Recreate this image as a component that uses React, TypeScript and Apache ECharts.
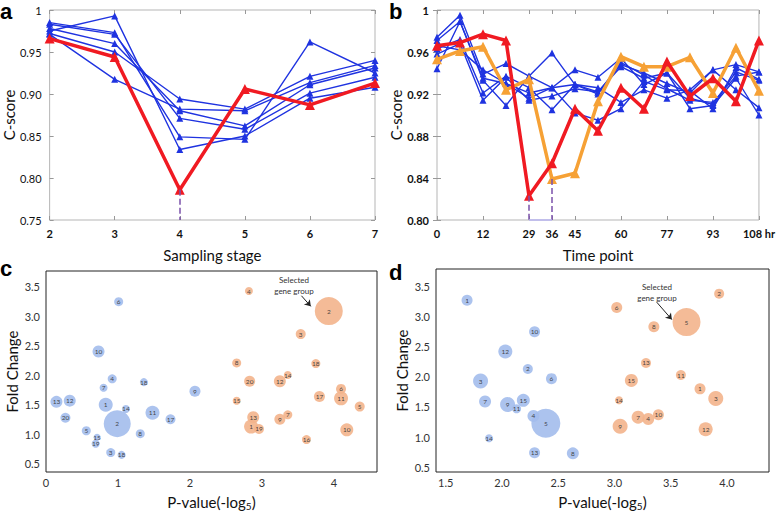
import React, { useEffect, useRef } from "react";
import * as echarts from "echarts";

// ---------- Panel a ----------
const aStages = ["2", "3", "4", "5", "6", "7"];
const aBlue1 = [0.985, 0.973, 0.849, 0.846, 0.962, 0.925];
const aBlue2 = [0.983, 0.971, 0.871, 0.858, 0.901, 0.92];
const aBlue3 = [0.978, 0.96, 0.88, 0.862, 0.911, 0.931];
const aBlue4 = [0.975, 0.993, 0.834, 0.85, 0.895, 0.908];
const aBlue5 = [0.972, 0.95, 0.894, 0.882, 0.921, 0.94];
const aBlue6 = [0.971, 0.9175, 0.882, 0.88, 0.9135, 0.934];
const aRed = [0.966, 0.944, 0.786, 0.906, 0.887, 0.913];

// ---------- Panel b ----------
const bTickLabels = ["0", "", "12", "", "29", "36", "45", "", "60", "", "77", "", "93", "", "108 hr"];
const bLabelIdx = [0, 2, 4, 5, 6, 8, 10, 12, 14];
const bBlue1 = [0.974, 0.995, 0.939, 0.949, 0.937, 0.959, 0.929, 0.922, 0.948, 0.94, 0.93, 0.921, 0.943, 0.948, 0.941];
const bBlue2 = [0.971, 0.989, 0.935, 0.93, 0.921, 0.926, 0.943, 0.936, 0.954, 0.929, 0.94, 0.916, 0.91, 0.941, 0.933];
const bBlue3 = [0.963, 0.972, 0.921, 0.937, 0.926, 0.905, 0.929, 0.926, 0.912, 0.924, 0.916, 0.924, 0.943, 0.924, 0.907];
const bBlue4 = [0.958, 0.968, 0.914, 0.936, 0.914, 0.918, 0.925, 0.922, 0.946, 0.935, 0.94, 0.906, 0.909, 0.935, 0.9];
const bBlue5 = [0.944, 0.989, 0.933, 0.909, 0.937, 0.926, 0.902, 0.895, 0.906, 0.932, 0.924, 0.923, 0.906, 0.945, 0.934];
const bBlue6 = [0.966, 0.962, 0.943, 0.93, 0.916, 0.926, 0.929, 0.92, 0.95, 0.938, 0.925, 0.914, 0.912, 0.937, 0.941];
const bRed = [0.966, 0.969, 0.977, 0.971, 0.823, 0.854, 0.906, 0.885, 0.926, 0.906, 0.951, 0.918, 0.935, 0.913, 0.971];
const bOrange = [0.953, 0.961, 0.965, 0.924, 0.934, 0.839, 0.8445, 0.913, 0.9555, 0.946, 0.946, 0.955, 0.921, 0.964, 0.923];

// ---------- Panel c (label, x, y, size) ----------
const cBlueLabels = ["6", "10", "4", "7", "18", "9", "13", "12", "1", "14", "11", "20", "17", "2", "5", "8", "15", "19", "3", "18"];
const cBlueX = [1.01, 0.73, 0.92, 0.8, 1.36, 2.07, 0.145, 0.33, 0.83, 1.11, 1.48, 0.27, 1.73, 0.99, 0.56, 1.31, 0.71, 0.69, 0.9, 1.05];
const cBlueY = [3.25, 2.405, 1.94, 1.79, 1.885, 1.73, 1.55, 1.57, 1.5, 1.43, 1.365, 1.28, 1.255, 1.18, 1.06, 1.01, 0.95, 0.84, 0.69, 0.65];
const cBlueSize = [9, 12, 9, 8, 8, 11, 12, 12, 14, 8, 14, 10, 10, 27, 9, 9, 7, 8, 9, 8];
const cOrangeLabels = ["4", "2", "3", "8", "18", "14", "12", "20", "6", "17", "11", "15", "5", "13", "7", "9", "1", "19", "10", "16"];
const cOrangeX = [2.82, 3.93, 3.54, 2.65, 3.75, 3.36, 3.25, 2.83, 4.1, 3.8, 4.1, 2.65, 4.36, 2.88, 3.36, 3.25, 2.85, 2.96, 4.18, 3.62];
const cOrangeY = [3.43, 3.09, 2.7, 2.21, 2.2, 2.005, 1.9, 1.9, 1.77, 1.64, 1.61, 1.57, 1.47, 1.29, 1.33, 1.255, 1.13, 1.09, 1.075, 0.91];
const cOrangeSize = [8, 28, 10, 9, 9, 8, 12, 11, 10, 11, 14, 8, 10, 12, 9, 11, 14, 10, 13, 9];

// ---------- Panel d ----------
const dBlueLabels = ["1", "10", "12", "2", "3", "6", "7", "9", "15", "11", "4", "5", "14", "13", "8"];
const dBlueX = [1.69, 2.29, 2.03, 2.23, 1.81, 2.44, 1.85, 2.05, 2.19, 2.13, 2.28, 2.39, 1.885, 2.29, 2.63];
const dBlueY = [3.27, 2.75, 2.42, 2.13, 1.93, 1.97, 1.59, 1.54, 1.61, 1.47, 1.35, 1.23, 0.98, 0.74, 0.73];
const dBlueSize = [11, 11, 14, 10, 15, 11, 12, 15, 13, 9, 12, 29, 8, 11, 12];
const dOrangeLabels = ["2", "6", "5", "8", "13", "11", "15", "1", "3", "14", "10", "7", "4", "9", "12"];
const dOrangeX = [3.93, 3.02, 3.64, 3.35, 3.28, 3.59, 3.15, 3.76, 3.9, 3.04, 3.39, 3.21, 3.3, 3.05, 3.81];
const dOrangeY = [3.38, 3.15, 2.91, 2.83, 2.23, 2.03, 1.94, 1.8, 1.64, 1.61, 1.37, 1.33, 1.3, 1.18, 1.13];
const dOrangeSize = [10, 11, 28, 11, 10, 10, 13, 11, 15, 8, 11, 13, 12, 15, 14];

const FONT = "Lato";
const BLUE = "#1f33e0";
const RED = "#f01a22";
const ORANGE = "#f6a135";
const BUB_BLUE = "#a3bcec";
const BUB_ORANGE = "#f3b48c";

function blueLine(data: number[], x: number, y: number, idxData?: boolean) {
  return {
    type: "line",
    xAxisIndex: x,
    yAxisIndex: y,
    data: idxData ? data.map((v, i) => [i, v]) : data,
    symbol: "triangle",
    symbolSize: 7,
    lineStyle: { color: BLUE, width: 1.4 },
    itemStyle: { color: BLUE },
    z: 2,
  };
}

function bubbles(labels: string[], xs: number[], ys: number[], sizes: number[], color: string, ax: number, extra?: any) {
  return Object.assign(
    {
      type: "scatter",
      xAxisIndex: ax,
      yAxisIndex: ax,
      data: labels.map((l, i) => [xs[i], ys[i], sizes[i], l]),
      symbolSize: (v: any) => v[2],
      itemStyle: { color, opacity: 0.9 },
      label: {
        show: true,
        position: "inside",
        formatter: (p: any) => p.value[3],
        fontSize: 6.5,
        color: "#333",
        fontFamily: FONT,
      },
    },
    extra || {}
  );
}

function arrow(x1: number, y1: number, x2: number, y2: number) {
  return {
    silent: true,
    symbol: ["none", "arrow"],
    symbolSize: 6,
    label: { show: false },
    lineStyle: { color: "#222", width: 1, type: "solid" },
    data: [[{ coord: [x1, y1] }, { coord: [x2, y2] }]],
  };
}

const dashed = { type: "dashed", color: "#7b52ab", width: 1.5 };

export default function App() {
  const ref = useRef<HTMLDivElement>(null);
  useEffect(() => {
    if (!ref.current) return;
    const chart = echarts.init(ref.current, null, { renderer: "svg" });
    const lineAxisLabel = { fontFamily: FONT, fontSize: 11, color: "#111" };
    const axisTitle = { fontFamily: FONT, fontSize: 15, color: "#111" };
    const subTitle = {
      fontFamily: FONT,
      fontSize: 15,
      color: "#111",
      rich: { sub: { fontFamily: FONT, fontSize: 10, color: "#111", padding: [8, 0, 0, 0] } },
    };
    const tickIn = { show: true, inside: true, length: 4, lineStyle: { color: "#999" } };
    const option: any = {
      animation: false,
      backgroundColor: "#fff",
      grid: [
        { left: 45, top: 10, width: 330, height: 210, show: true, borderColor: "#b5b5b5", borderWidth: 1 },
        { left: 437, top: 10, width: 333, height: 210, show: true, borderColor: "#b5b5b5", borderWidth: 1 },
        { left: 46, top: 271, width: 331, height: 207, show: true, borderColor: "#222", borderWidth: 1 },
        { left: 436, top: 269, width: 333, height: 209, show: true, borderColor: "#222", borderWidth: 1 },
      ],
      xAxis: [
        {
          gridIndex: 0, type: "category", data: aStages, boundaryGap: false,
          axisLine: { show: false }, axisTick: tickIn,
          axisLabel: { ...lineAxisLabel, fontWeight: "bold", margin: 8 },
          name: "Sampling stage", nameLocation: "middle", nameGap: 27, nameTextStyle: axisTitle,
        },
        {
          gridIndex: 0, type: "category", data: aStages, boundaryGap: false, position: "top",
          axisLine: { show: false }, axisTick: tickIn, axisLabel: { show: false },
        },
        {
          gridIndex: 1, type: "value", min: 0, max: 14, splitLine: { show: false },
          axisLine: { show: false },
          axisTick: { ...tickIn, customValues: bLabelIdx },
          axisLabel: {
            ...lineAxisLabel, fontWeight: "bold", margin: 8, customValues: bLabelIdx,
            formatter: (v: number) => bTickLabels[Math.round(v)],
          },
          name: "Time point", nameLocation: "middle", nameGap: 27, nameTextStyle: axisTitle,
        },
        {
          gridIndex: 1, type: "value", min: 0, max: 14, position: "top", splitLine: { show: false },
          axisLine: { show: false }, axisTick: { ...tickIn, customValues: bLabelIdx }, axisLabel: { show: false },
        },
        {
          gridIndex: 2, type: "value", min: 0, max: 4.6, splitLine: { show: false },
          axisLine: { show: false }, axisTick: { show: false },
          axisLabel: { fontFamily: FONT, fontSize: 11, color: "#333", margin: 5, customValues: [0, 1, 2, 3, 4] },
          name: "P-value(-log{sub|5})", nameLocation: "middle", nameGap: 21, nameTextStyle: subTitle,
        },
        {
          gridIndex: 3, type: "value", min: 1.414, max: 4.373, splitLine: { show: false },
          axisLine: { show: false }, axisTick: { show: false },
          axisLabel: {
            fontFamily: FONT, fontSize: 11, color: "#333", margin: 5,
            customValues: [1.5, 2, 2.5, 3, 3.5, 4], formatter: (v: number) => v.toFixed(1),
          },
          name: "P-value(-log{sub|5})", nameLocation: "middle", nameGap: 21, nameTextStyle: subTitle,
        },
      ],
      yAxis: [
        {
          gridIndex: 0, type: "value", min: 0.75, max: 1, interval: 0.05, splitLine: { show: false },
          axisLine: { show: false }, axisTick: tickIn,
          axisLabel: { ...lineAxisLabel, margin: 8, formatter: (v: number) => (v > 0.999 ? "1" : v.toFixed(2)) },
          name: "C-score", nameLocation: "middle", nameGap: 32, nameTextStyle: axisTitle,
        },
        {
          gridIndex: 0, type: "value", min: 0.75, max: 1, interval: 0.05, position: "right", splitLine: { show: false },
          axisLine: { show: false }, axisTick: tickIn, axisLabel: { show: false },
        },
        {
          gridIndex: 1, type: "value", min: 0.8, max: 1, interval: 0.04, splitLine: { show: false },
          axisLine: { show: false }, axisTick: tickIn,
          axisLabel: { ...lineAxisLabel, fontWeight: "bold", margin: 8, formatter: (v: number) => (v > 0.999 ? "1" : v.toFixed(2)) },
          name: "C-score", nameLocation: "middle", nameGap: 32, nameTextStyle: axisTitle,
        },
        {
          gridIndex: 1, type: "value", min: 0.8, max: 1, interval: 0.04, position: "right", splitLine: { show: false },
          axisLine: { show: false }, axisTick: tickIn, axisLabel: { show: false },
        },
        {
          gridIndex: 2, type: "value", min: 0.36, max: 3.77, splitLine: { show: false },
          axisLine: { show: false }, axisTick: { show: false },
          axisLabel: {
            fontFamily: FONT, fontSize: 11, color: "#333", margin: 6,
            customValues: [0.5, 1, 1.5, 2, 2.5, 3, 3.5], formatter: (v: number) => v.toFixed(1),
          },
          name: "Fold Change", nameLocation: "middle", nameGap: 27, nameTextStyle: axisTitle,
        },
        {
          gridIndex: 3, type: "value", min: 0.42, max: 3.79, splitLine: { show: false },
          axisLine: { show: false }, axisTick: { show: false },
          axisLabel: {
            fontFamily: FONT, fontSize: 11, color: "#333", margin: 6,
            customValues: [0.5, 1, 1.5, 2, 2.5, 3, 3.5], formatter: (v: number) => v.toFixed(1),
          },
          name: "Fold Change", nameLocation: "middle", nameGap: 27, nameTextStyle: axisTitle,
        },
      ],
      series: [
        blueLine(aBlue1, 0, 0),
        blueLine(aBlue2, 0, 0),
        blueLine(aBlue3, 0, 0),
        blueLine(aBlue4, 0, 0),
        blueLine(aBlue5, 0, 0),
        blueLine(aBlue6, 0, 0),
        {
          type: "line", xAxisIndex: 0, yAxisIndex: 0, data: aRed,
          symbol: "triangle", symbolSize: 10,
          lineStyle: { color: RED, width: 3.5 }, itemStyle: { color: RED }, z: 4,
          markLine: {
            silent: true, symbol: "none", label: { show: false }, lineStyle: dashed,
            data: [[{ coord: ["4", aRed[2]] }, { coord: ["4", 0.75] }]],
          },
        },
        blueLine(bBlue1, 2, 2, true),
        blueLine(bBlue2, 2, 2, true),
        blueLine(bBlue3, 2, 2, true),
        blueLine(bBlue4, 2, 2, true),
        blueLine(bBlue5, 2, 2, true),
        blueLine(bBlue6, 2, 2, true),
        {
          type: "line", xAxisIndex: 2, yAxisIndex: 2, data: bOrange.map((v, i) => [i, v]),
          symbol: "triangle", symbolSize: 10,
          lineStyle: { color: ORANGE, width: 3.5 }, itemStyle: { color: ORANGE }, z: 3,
          markLine: {
            silent: true, symbol: "none", label: { show: false }, lineStyle: dashed,
            data: [[{ coord: [5, bOrange[5]] }, { coord: [5, 0.8] }]],
          },
        },
        {
          type: "line", xAxisIndex: 2, yAxisIndex: 2, data: bRed.map((v, i) => [i, v]),
          symbol: "triangle", symbolSize: 10,
          lineStyle: { color: RED, width: 3.5 }, itemStyle: { color: RED }, z: 4,
          markLine: {
            silent: true, symbol: "none", label: { show: false }, lineStyle: dashed,
            data: [
              [{ coord: [4, bRed[4]] }, { coord: [4, 0.8] }],
              [{ coord: [4, 0.8], lineStyle: { type: "solid", color: "#b9b5f0", width: 1.5 } }, { coord: [5, 0.8] }],
            ],
          },
        },
        bubbles(cBlueLabels, cBlueX, cBlueY, cBlueSize, BUB_BLUE, 4),
        bubbles(cOrangeLabels, cOrangeX, cOrangeY, cOrangeSize, BUB_ORANGE, 4, { markLine: arrow(3.55, 3.35, 3.68, 3.17) }),
        bubbles(dBlueLabels, dBlueX, dBlueY, dBlueSize, BUB_BLUE, 5),
        bubbles(dOrangeLabels, dOrangeX, dOrangeY, dOrangeSize, BUB_ORANGE, 5, { markLine: arrow(3.375, 3.24, 3.51, 2.95) }),
      ],
      graphic: [
        { type: "text", left: 0, top: 0, style: { text: "a", font: "bold 22px 'Liberation Sans'", fill: "#000" } },
        { type: "text", left: 389, top: 0, style: { text: "b", font: "bold 22px 'Liberation Sans'", fill: "#000" } },
        { type: "text", left: 0, top: 257, style: { text: "c", font: "bold 22px 'Liberation Sans'", fill: "#000" } },
        { type: "text", left: 389, top: 261, style: { text: "d", font: "bold 22px 'Liberation Sans'", fill: "#000" } },
        {
          type: "text", x: 294, y: 274,
          style: { text: "Selected\ngene group", align: "center", font: "8px Lato", lineHeight: 11, fill: "#333" },
        },
        {
          type: "text", x: 657, y: 281,
          style: { text: "Selected\ngene group", align: "center", font: "8px Lato", lineHeight: 11, fill: "#333" },
        },
      ],
    };
    chart.setOption(option);
    return () => chart.dispose();
  }, []);
  return (
    <div
      ref={ref}
      style={{ position: "fixed", left: 0, top: 0, width: 778, height: 512, background: "#fff" }}
    />
  );
}
